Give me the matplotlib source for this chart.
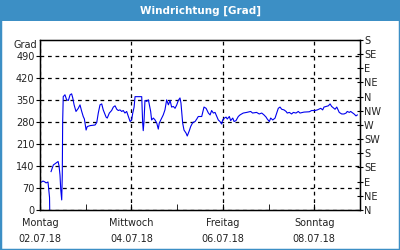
import matplotlib
matplotlib.use("Agg")
from matplotlib import pyplot as plt
from matplotlib.patches import Rectangle
import numpy as np

title = "Windrichtung [Grad]"
day_labels = ["Montag\n02.07.18", "Mittwoch\n04.07.18", "Freitag\n06.07.18", "Sonntag\n08.07.18"]
day_ticks = [0, 2, 4, 6]
left_ticks = [0, 70, 140, 210, 280, 350, 420, 490]
right_ticks = list(range(0, 541, 45))
right_labels = ["N", "NE", "E", "SE", "S", "SW", "W", "NW", "N", "NE", "E", "SE", "S"]

# hours since 02.07.18 00:00 / direction in degrees (nan = gap in the record)
hours = [
    0, 1.6, 2.6, 3.2, 4.2, 4.5, 5.0, 5.1, 5.4, 5.8, 7.0, 8.8, 9.5, 10.0, 10.5,
    10.9, 11.4, 11.7, 11.9, 12.2, 13.1, 14.0, 14.9, 15.8, 16.6, 17.2, 17.9,
    18.9, 20.1, 21.0, 21.9, 22.7, 23.3, 24.2, 24.8, 26.3, 28.9, 29.8, 30.6,
    31.5, 32.4, 33.2, 34.7, 35.3, 36.4, 37.6, 38.5, 39.4, 40.3, 41.1, 42.0,
    42.9, 43.7, 44.6, 45.5, 46.4, 47.3, 48.1, 48.7, 49.4, 49.9, 53.4, 53.9,
    54.2, 54.6, 55.1, 56.0, 56.9, 57.4, 58.1, 58.6, 59.5, 60.4, 61.3, 62.1,
    62.6, 63.9, 64.7, 65.6, 66.5, 67.4, 68.3, 69.1, 70.0, 70.9, 71.8, 72.6,
    73.5, 74.0, 74.9, 75.6, 76.7, 77.3, 78.4, 79.1, 80.2, 81.4, 82.3, 83.1,
    84.0, 84.9, 86.1, 87.2, 88.4, 89.3, 90.1, 91.0, 91.9, 92.8, 93.6, 94.5,
    95.4, 95.9, 96.8, 97.7, 98.3, 99.4, 100.1, 101.2, 101.9, 102.9, 104.1,
    105.0, 106.7, 108.5, 110.6, 111.6, 113.7, 115.1, 116.4, 117.6, 118.7,
    119.3, 120.4, 121.1, 122.2, 123.4, 124.3, 125.1, 126.0, 126.9, 128.1,
    129.2, 129.8, 130.9, 132.1, 133.0, 134.4, 135.6, 136.5, 138.6, 141.4,
    142.6, 144.4, 145.6, 147.4, 148.4, 149.1, 150.2, 151.4, 152.3, 153.1,
    154.9, 155.8, 157.1, 158.4, 159.6, 160.7, 161.3, 162.4, 163.1, 164.2,
    164.9, 165.9, 166.6,
]
grad = [
    86, 92, 89, 86, 89, 70, 40, 0, np.nan, 122, 143, 151, 154, 140, 111,
    64, 32, 111, 281, 360, 366, 350, 348, 366, 369, 356, 334,
    313, 323, 334, 313, 297, 289, 254, 265, 268, 270, 278, 308,
    334, 337, 318, 295, 292, 308, 316, 327, 331, 320, 316, 318,
    313, 316, 308, 313, 297, 281, 286, 308, 327, 360, 360, 276,
    252, 281, 348, 345, 350, 334, 313, 286, 292, 286, 276, 257,
    276, 292, 302, 318, 350, 334, 348, 327, 329, 323, 334, 348,
    356, 340, 276, 254, 244, 235, 252, 265, 278, 281, 289, 297,
    297, 297, 327, 323, 308, 302, 316, 308, 310, 297, 286, 281,
    273, 286, 292, 295, 289, 297, 284, 292, 281, 284, 297,
    302, 308, 310, 313, 308, 310, 305, 308, 302, 295,
    289, 281, 292, 286, 292, 308, 323, 327, 320, 318,
    313, 308, 310, 305, 310, 308, 313, 308, 311, 312,
    316, 316, 318, 323, 318, 327, 329, 331, 337, 329,
    320, 327, 310, 305, 305, 308, 313, 310, 313, 308,
    305, 299, 302,
]

plt.rcParams["font.family"] = ["DejaVu Sans"]
txt = "#222222"
fig = plt.figure(figsize=(4, 2.5), dpi=100)
fig.patch.set_facecolor("white")

blue = "#3c8fc5"
fig.patches.append(Rectangle((0, 0), 1, 1, transform=fig.transFigure,
                             fill=False, edgecolor=blue, linewidth=2.5))
fig.patches.append(Rectangle((0, 1 - 21 / 250), 1, 21 / 250, transform=fig.transFigure,
                             facecolor=blue, edgecolor="none"))
fig.text(0.5, 1 - 10.5 / 250, title, ha="center", va="center",
         color="white", fontsize=7.5, fontweight="bold")

ax = fig.add_axes([40 / 400, 40 / 250, 320 / 400, 170 / 250])
days = np.array(hours) / 24.0
ax.plot(days, grad, color="#0000ee", linewidth=0.8)

ax.set_xlim(0, 7)
ax.set_ylim(0, 540)
ax.set_yticks(left_ticks)
ax.set_xticks(day_ticks)
ax.set_xticklabels(day_labels, linespacing=1.65)
ax.set_xticks([1, 3, 5, 7], minor=True)
ax.tick_params(axis="x", which="both", direction="in", length=4, labelsize=7,
               pad=6, labelcolor=txt)
ax.tick_params(axis="y", direction="out", length=3, labelsize=7, pad=1, labelcolor=txt)
ax.grid(True, which="major", color="black", linestyle=(0, (3, 3)), linewidth=0.9)
for s in ax.spines.values():
    s.set_color("black")
    s.set_linewidth(1.0)

ax2 = ax.twinx()
ax2.set_ylim(0, 540)
ax2.set_yticks(right_ticks)
ax2.set_yticklabels(right_labels)
ax2.tick_params(axis="y", direction="inout", length=4, labelsize=7, pad=1, labelcolor=txt)

fig.text(37 / 400, 1 - 45 / 250, "Grad", ha="right", va="center", fontsize=7, color=txt)

fig.savefig("out.png", dpi=100)
